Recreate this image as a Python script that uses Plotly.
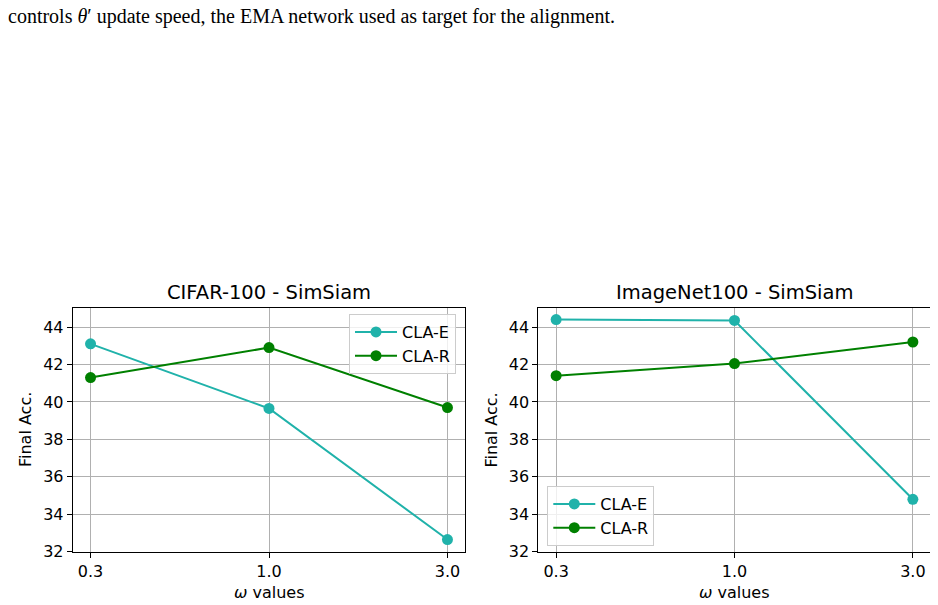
import plotly.graph_objects as go
from plotly.subplots import make_subplots

# omega values on the x axis
omega = ["0.3", "1.0", "3.0"]

# final accuracy
cifar_cla_e = [43.1, 39.65, 32.65]
cifar_cla_r = [41.3, 42.9, 39.7]
imnet_cla_e = [44.4, 44.35, 34.8]
imnet_cla_r = [41.4, 42.05, 43.2]

titles = ["CIFAR-100 - SimSiam", "ImageNet100 - SimSiam"]
teal = "#20b2aa"
green = "#008000"

# the page body has an 8px margin, so the figure is a bit smaller than the window
OFF = 8
W, H = 938 - OFF, 605 - OFF


def px(x):
    return (x - OFF) / W


def py(y):
    return 1 - (y - OFF) / H


fig = make_subplots(rows=1, cols=2)

panels = [(cifar_cla_e, cifar_cla_r, 1, "legend"), (imnet_cla_e, imnet_cla_r, 2, "legend2")]
for e_vals, r_vals, col, leg in panels:
    fig.add_trace(go.Scatter(x=omega, y=e_vals, mode="lines+markers", name="CLA-E",
                             line=dict(color=teal, width=2), marker=dict(size=11, color=teal),
                             legend=leg), row=1, col=col)
    fig.add_trace(go.Scatter(x=omega, y=r_vals, mode="lines+markers", name="CLA-R",
                             line=dict(color=green, width=2), marker=dict(size=11, color=green),
                             legend=leg), row=1, col=col)

# panel boxes in window pixels (left, right), same vertical extent
boxes = [(72.7, 465.3), (538.3, 930.7)]
y_top, y_bot = 308.3, 551.7

axis_common = dict(showline=True, mirror=True, linecolor="black", linewidth=1,
                   ticks="outside", ticklen=5, tickcolor="black",
                   showgrid=True, gridcolor="#b0b0b0", gridwidth=1, zeroline=False,
                   tickfont=dict(family="DejaVu Sans", size=16, color="black"))

for i, (l, r) in enumerate(boxes):
    sfx = "" if i == 0 else str(i + 1)
    fig.layout["xaxis" + sfx].update(domain=[px(l), px(r)], type="category",
                                     range=[-0.1, 2.1], **axis_common)
    fig.layout["yaxis" + sfx].update(domain=[py(y_bot), py(y_top)],
                                     range=[32, 45], dtick=2, tick0=32, **axis_common)

annotations = []
label_font = dict(family="DejaVu Sans", size=16, color="black")
for i, (l, r) in enumerate(boxes):
    cx = px((l + r) / 2)
    annotations.append(dict(text=titles[i], x=cx, y=py(292), xref="paper", yref="paper",
                            showarrow=False, xanchor="center", yanchor="middle",
                            font=dict(family="DejaVu Sans", size=19.5, color="black")))
    annotations.append(dict(text="<i>ω</i> values", x=cx, y=py(592), xref="paper",
                            yref="paper", showarrow=False, xanchor="center", yanchor="middle",
                            font=label_font))
    annotations.append(dict(text="Final Acc.", x=px(l - 47.7), y=py((y_top + y_bot) / 2),
                            xref="paper", yref="paper", showarrow=False, textangle=-90,
                            xanchor="center", yanchor="middle", font=label_font))

# caption fragment from the page above the figure
annotations.append(dict(text="controls <i>θ</i>′ update speed, the EMA network used as target for the alignment.",
                        x=px(6), y=py(17), xref="paper", yref="paper", showarrow=False,
                        xanchor="left", yanchor="middle",
                        font=dict(family="Liberation Serif", size=20, color="black")))

legend_style = dict(bgcolor="rgba(255,255,255,0.8)", bordercolor="#cccccc", borderwidth=1,
                    font=dict(family="DejaVu Sans", size=16, color="black"),
                    itemwidth=42, xref="paper", yref="paper")

fig.update_layout(
    width=W, height=H,
    margin=dict(l=0, r=0, t=0, b=0, autoexpand=False),
    paper_bgcolor="white", plot_bgcolor="white",
    annotations=annotations,
    legend=dict(x=px(456), y=py(314), xanchor="right", yanchor="top", **legend_style),
    legend2=dict(x=px(547.3), y=py(546), xanchor="left", yanchor="bottom", **legend_style),
)

fig.write_html("out.html")
